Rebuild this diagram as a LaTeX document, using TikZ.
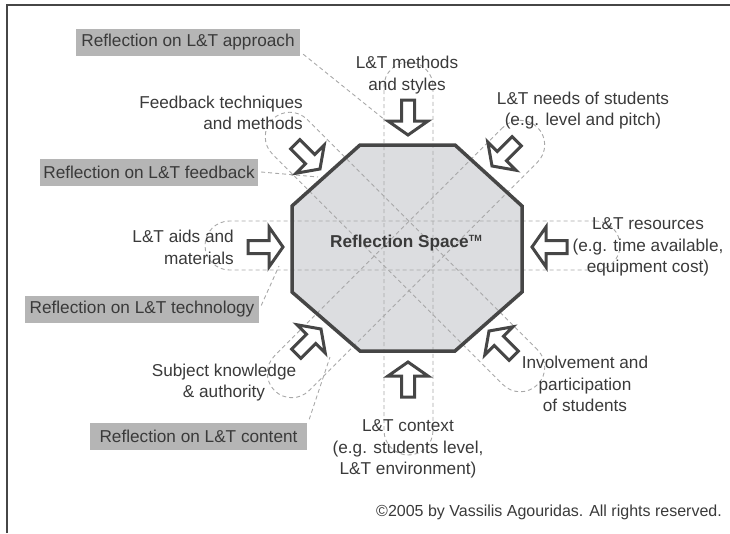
\documentclass[tikz,border=0pt]{standalone}
\usepackage{fontspec}
\setmainfont{Liberation Sans}
\definecolor{ink}{HTML}{3A3A3A}
\definecolor{edgec}{HTML}{464646}
\definecolor{octfill}{HTML}{DCDDE0}
\definecolor{boxfill}{HTML}{B5B5B5}
\definecolor{dashc}{HTML}{A8A8A8}
\begin{document}
\begin{tikzpicture}[x=1pt,y=-1pt,
  lbl/.style={text=ink, font=\fontsize{17.2}{21.6}\selectfont, inner sep=0pt},
  refbox/.style={lbl, fill=boxfill, minimum height=27pt, inner sep=0pt},
  guide/.style={draw=dashc, dash pattern=on 4pt off 3pt, line width=0.9pt},
  track/.style={guide, rounded corners=24.5pt, minimum height=49pt, inner sep=0pt},
  blockarr/.pic={\draw[draw=edgec, fill=white, line width=3pt, line join=miter]
     (-35,-6.5) -- (-14,-6.5) -- (-14,-20) -- (0,0) -- (-14,20) -- (-14,6.5) -- (-35,6.5) -- cycle;}
]
\useasboundingbox (0,0) rectangle (730,533);
% frame
\draw[edgec, line width=2pt] (7,533) -- (7,4.5) -- (730,4.5);

% octagon fill
\coordinate (o1) at (360,145);
\coordinate (o2) at (455,145);
\coordinate (o3) at (522,206);
\coordinate (o4) at (522,292);
\coordinate (o5) at (455,351);
\coordinate (o6) at (360,351);
\coordinate (o7) at (292,292);
\coordinate (o8) at (292,206);
\fill[octfill] (o1) -- (o2) -- (o3) -- (o4) -- (o5) -- (o6) -- (o7) -- (o8) -- cycle;

% dashed tracks
\node[track, minimum width=49pt, minimum height=393pt] (vtrack) at (408.5,258.5) {};
\node[track, minimum width=415pt] (htrack) at (412.5,245.5) {};
\node[track, minimum width=375pt, rotate=-45] (dtrackA) at (405,252) {};
\node[track, minimum width=372pt, rotate=45] (dtrackB) at (406,259) {};

% octagon border
\draw[edgec, line width=3.5pt, line join=miter] (o1) -- (o2) -- (o3) -- (o4) -- (o5) -- (o6) -- (o7) -- (o8) -- cycle;

% reflection boxes
\node[refbox, minimum width=224pt] (apr) at (188,42.5) {Reflection on L\&T approach};
\node[refbox, minimum width=218pt] (fbk) at (149,172) {Reflection on L\&T feedback};
\node[refbox, minimum width=234pt] (tec) at (142,309.5) {Reflection on L\&T technology};
\node[refbox, minimum width=217pt] (con) at (198.5,436) {Reflection on L\&T content};

\coordinate (aprEnd) at (385,120);
\coordinate (fbkEnd) at (318,177);
\coordinate (tecEnd) at (279,266);
\coordinate (conEnd) at (330,357);
\draw[guide] (apr.south east) ++(3,-2) -- (aprEnd);
\draw[guide] (fbk.east) ++(3,0) -- (fbkEnd);
\draw[guide] (tec.east) ++(2,-4) -- (tecEnd);
\draw[guide] (con.north east) ++(2,-3) -- (conEnd);

% block arrows
\pic[rotate=-90] at (408,135) {blockarr};
\pic[rotate=90] at (408,362) {blockarr};
\pic at (283,247) {blockarr};
\pic[rotate=180] at (532,247) {blockarr};
\pic[rotate=-45] at (320,169) {blockarr};
\pic[rotate=-135] at (492,166) {blockarr};
\pic[rotate=45] at (321,329) {blockarr};
\pic[rotate=135] at (489,331) {blockarr};

% labels
\node[lbl, font=\fontsize{17.2}{21.6}\selectfont\bfseries] (space) at (406,243)
  {Reflection Space\raisebox{6.5pt}{\fontsize{9}{9}\selectfont\bfseries TM}};
\node[lbl, align=center] (methods) at (407,75) {L\&T methods\\and styles};
\node[lbl, align=right, anchor=east] (fbtech) at (303,113) {Feedback techniques\\and methods};
\node[lbl, align=center] (needs) at (583,110.5) {L\&T needs of students\\(e.g. level and pitch)};
\node[lbl, align=right, anchor=east] (aids) at (234,247.5) {L\&T aids and\\materials};
\node[lbl, align=center] (res) at (648,247) {L\&T resources\\(e.g. time available,\\equipment cost)};
\node[lbl, align=center] (subj) at (224,382.5) {Subject knowledge\\\& authority};
\node[lbl, align=center] (invol) at (585,384) {Involvement and\\participation\\of students};
\node[lbl, align=center] (ctx) at (408,449) {L\&T context\\(e.g. students level,\\L\&T environment)};
\node[lbl, anchor=east, font=\fontsize{16}{19}\selectfont] (copy) at (722,512) {©2005 by Vassilis Agouridas. All rights reserved.};
\end{tikzpicture}
\end{document}
